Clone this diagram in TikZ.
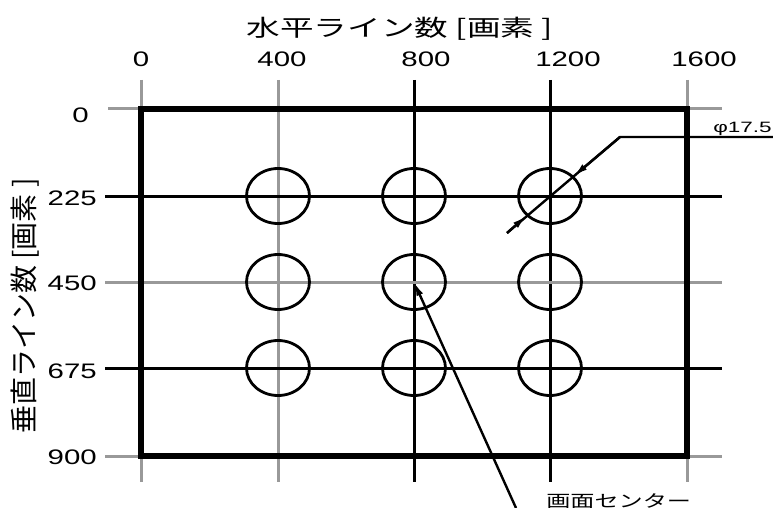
\documentclass[tikz,border=0pt]{standalone}
\usepackage{fontspec}
\setmainfont{Liberation Sans}
\newfontfamily\jpfont{Noto Sans CJK JP}
\usetikzlibrary{shapes.geometric,arrows.meta}
\def\HoleW{63pt}
\def\HoleH{55pt}

\begin{document}
\begin{tikzpicture}[x=1pt,y=-1pt,
	gridline/.style={line width=3pt,black},
	gridgray/.style={line width=3pt,black!40},
	frame/.style={line width=6pt,line cap=rect},
	hole/.style={ellipse,draw,line width=2.8pt,minimum width=\HoleW,minimum height=\HoleH,inner sep=0pt},
	num/.style={font=\fontsize{21}{21}\selectfont,xscale=1.4,inner sep=0pt},
	jp/.style={font=\jpfont\fontsize{23}{23}\selectfont,xscale=1.46,inner sep=0pt},
	lead/.style={line width=2.4pt},
	tip/.style={-{Latex[length=14pt,width=7pt]}}]
	\useasboundingbox (0,0) rectangle (773,508);
	% 
	\coordinate (t0) at (141,80);  \coordinate (b0) at (141,482);
	\coordinate (t1) at (278,80);  \coordinate (b1) at (278,482);
	\coordinate (t2) at (414,80);  \coordinate (b2) at (414,482);
	\coordinate (t3) at (550,80);  \coordinate (b3) at (550,482);
	\coordinate (t4) at (687,80);  \coordinate (b4) at (687,482);
	% 
	\coordinate (l0) at (108,109); \coordinate (r0) at (722,109);
	\coordinate (l1) at (105,196); \coordinate (r1) at (722,196);
	\coordinate (l2) at (105,282); \coordinate (r2) at (722,282);
	\coordinate (l3) at (105,368); \coordinate (r3) at (722,368);
	\coordinate (l4) at (105,456); \coordinate (r4) at (722,456);
	% 
	\draw[gridgray] (t0) -- (b0);
	\draw[gridgray] (t1) -- (b1);
	\draw[gridline] (t2) -- (b2);
	\draw[gridline] (t3) -- (b3);
	\draw[gridgray] (t4) -- (b4);
	\draw[gridgray] (l0) -- (r0);
	\draw[gridline] (l1) -- (r1);
	\draw[gridgray] (l2) -- (r2);
	\draw[gridline] (l3) -- (r3);
	\draw[gridgray] (l4) -- (r4);
	% 
	\draw[frame] (141,109) rectangle (687,456);
	% 
	\node[hole] (h11) at (278,196) {};
	\node[hole] (h12) at (414,196) {};
	\node[hole] (h13) at (550,196) {};
	\node[hole] (h21) at (278,282) {};
	\node[hole] (h22) at (414,282) {};
	\node[hole] (h23) at (550,282) {};
	\node[hole] (h31) at (278,368) {};
	\node[hole] (h32) at (414,368) {};
	\node[hole] (h33) at (550,368) {};
	% 
	\node[jp] (xtitle) at (400,29) {水平ライン数 [画素 ]};
	\node[font=\jpfont\fontsize{28}{28}\selectfont,rotate=90,inner sep=0pt] (ytitle) at (25,306) {垂直ライン数 [画素 ]};
	% 
	\node[num] (lx0) at (141,59) {0};
	\node[num] (lx400) at (282,59) {400};
	\node[num] (lx800) at (426,59) {800};
	\node[num] (lx1200) at (568,59) {1200};
	\node[num] (lx1600) at (704,59) {1600};
	% 
	\node[num,anchor=east] (ly0) at (89,115) {0};
	\node[num,anchor=east] (ly225) at (97,198) {225};
	\node[num,anchor=east] (ly450) at (97,283) {450};
	\node[num,anchor=east] (ly675) at (97,371) {675};
	\node[num,anchor=east] (ly900) at (97,457) {900};
	% 
	\coordinate (dk) at (620,137);
	\coordinate (dl) at (507,233);
	\coordinate (de) at (773,137);
	\draw[lead] (de) -- (dk) -- (dl);
	\draw[lead,tip] (dk) -- (h13.40);
	\draw[lead,tip] (dl) -- (h13.220);
	\node[font=\fontsize{15}{15}\selectfont,xscale=1.5,anchor=base east,inner sep=0pt] (dia) at (772,132) {φ17.5};
	% 
	\coordinate (ce) at (516,508);
	\draw[lead,tip] (ce) -- (h22.center);
	\node[font=\jpfont\fontsize{17}{17}\selectfont,xscale=1.42,anchor=north west,inner sep=0pt] (ctr) at (546,493) {画面センター};
\end{tikzpicture}
\end{document}
